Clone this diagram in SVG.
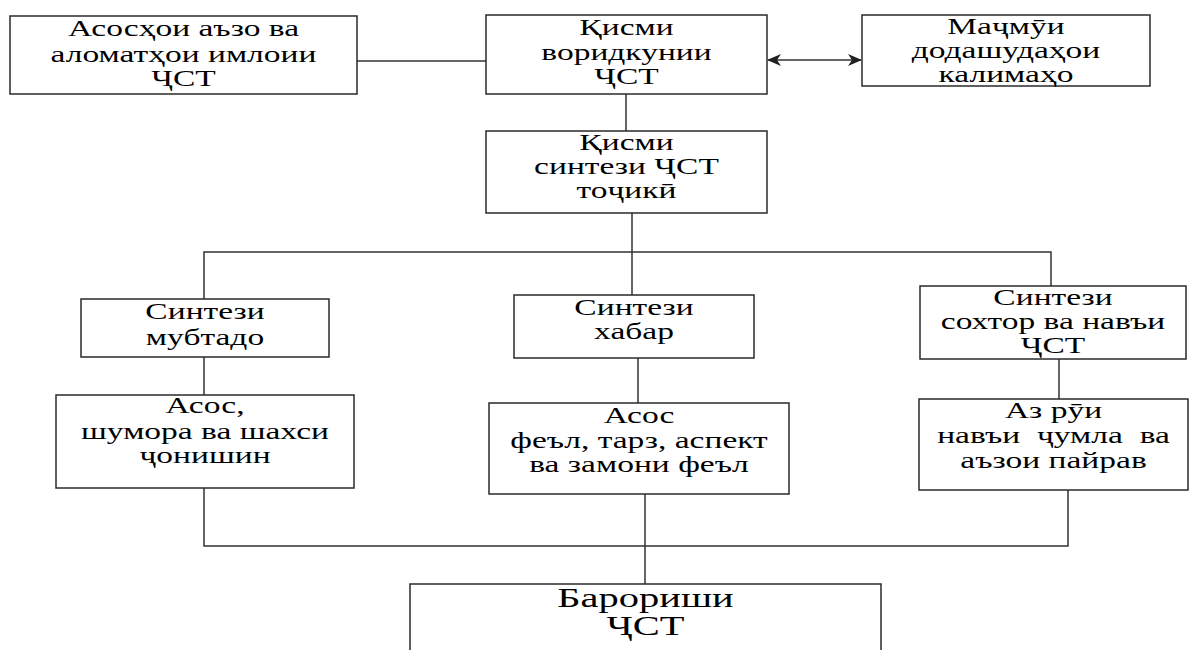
<svg xmlns="http://www.w3.org/2000/svg" width="1189" height="650" viewBox="0 0 1189 650">
<style>
.box{fill:#fff;stroke:#2a2a2a;stroke-width:1.5}
.ln{fill:none;stroke:#333;stroke-width:1.5}
.t{font-family:"Liberation Serif","Times New Roman",serif;font-size:22.5px;fill:#000;text-anchor:middle}
.tk{font-family:"Liberation Serif","Times New Roman",serif;font-size:27px;fill:#000;text-anchor:middle}
</style>
<defs>
<marker id="ah" viewBox="0 0 14 12" refX="13" refY="6" markerWidth="14" markerHeight="12" markerUnits="userSpaceOnUse" orient="auto-start-reverse">
<path d="M0,0 L14,6 L0,12 L4,6 z" fill="#222"/>
</marker>
</defs>
<rect width="1189" height="650" fill="#fff"/>
<g id="connectors">
<path class="ln" d="M357,61 H486"/>
<path class="ln" d="M768,60 H861" marker-start="url(#ah)" marker-end="url(#ah)"/>
<path class="ln" d="M626,94 V131"/>
<path class="ln" d="M632,213 V295"/>
<path class="ln" d="M204,299 V252 H1051 V286"/>
<path class="ln" d="M204,357 V395"/>
<path class="ln" d="M638,358 V403"/>
<path class="ln" d="M1059,359 V399"/>
<path class="ln" d="M204,488 V546 H1068 V490"/>
<path class="ln" d="M645,494 V584"/>
</g>
<g id="nodeA">
<rect class="box" x="10" y="16" width="347" height="78"/>
<text class="t" transform="translate(183.5 0) scale(1.49 1)"><tspan x="0" y="36">Асосҳои аъзо ва</tspan><tspan x="0" y="62">аломатҳои имлоии</tspan><tspan x="0" y="86">ҶСТ</tspan></text>
</g>
<g id="nodeB">
<rect class="box" x="486" y="15" width="281" height="79"/>
<text class="t" transform="translate(626.5 0) scale(1.49 1)"><tspan x="0" y="35">Қисми</tspan><tspan x="0" y="60">воридкунии</tspan><tspan x="0" y="84">ҶСТ</tspan></text>
</g>
<g id="nodeC">
<rect class="box" x="862" y="15" width="288" height="71"/>
<text class="t" transform="translate(1006 0) scale(1.49 1)"><tspan x="0" y="34">Маҷмӯи</tspan><tspan x="0" y="58">додашудаҳои</tspan><tspan x="0" y="82">калимаҳо</tspan></text>
</g>
<g id="nodeD">
<rect class="box" x="486" y="131" width="281" height="82"/>
<text class="t" transform="translate(626.5 0) scale(1.49 1)"><tspan x="0" y="150">Қисми</tspan><tspan x="0" y="174">синтези ҶСТ</tspan><tspan x="0" y="198">тоҷикӣ</tspan></text>
</g>
<g id="nodeE">
<rect class="box" x="81" y="299" width="248" height="58"/>
<text class="t" transform="translate(205 0) scale(1.49 1)"><tspan x="0" y="319">Синтези</tspan><tspan x="0" y="345">мубтадо</tspan></text>
</g>
<g id="nodeF">
<rect class="box" x="514" y="295" width="240" height="63"/>
<text class="t" transform="translate(634 0) scale(1.49 1)"><tspan x="0" y="315">Синтези</tspan><tspan x="0" y="339">хабар</tspan></text>
</g>
<g id="nodeG">
<rect class="box" x="920" y="286" width="266" height="73"/>
<text class="t" transform="translate(1053 0) scale(1.49 1)"><tspan x="0" y="305">Синтези</tspan><tspan x="0" y="329">сохтор ва навъи</tspan><tspan x="0" y="353">ҶСТ</tspan></text>
</g>
<g id="nodeH">
<rect class="box" x="56" y="395" width="298" height="93"/>
<text class="t" transform="translate(205 0) scale(1.49 1)"><tspan x="0" y="413">Асос,</tspan><tspan x="0" y="439">шумора ва шахси</tspan><tspan x="0" y="463">ҷонишин</tspan></text>
</g>
<g id="nodeI">
<rect class="box" x="489" y="403" width="300" height="91"/>
<text class="t" transform="translate(639 0) scale(1.49 1)"><tspan x="0" y="423">Асос</tspan><tspan x="0" y="448">феъл, тарз, аспект</tspan><tspan x="0" y="472">ва замони феъл</tspan></text>
</g>
<g id="nodeJ">
<rect class="box" x="919" y="399" width="269" height="91"/>
<text class="t" transform="translate(1053.5 0) scale(1.49 1)" xml:space="preserve"><tspan x="0" y="418">Аз рӯи</tspan><tspan x="0" y="443">навъи  ҷумла  ва</tspan><tspan x="0" y="468">аъзои пайрав</tspan></text>
</g>
<g id="nodeK">
<rect class="box" x="410" y="584" width="471" height="80"/>
<text class="tk" transform="translate(645.5 0) scale(1.5 1)"><tspan x="0" y="607">Барориши</tspan><tspan x="0" y="635">ҶСТ</tspan></text>
</g>
</svg>
